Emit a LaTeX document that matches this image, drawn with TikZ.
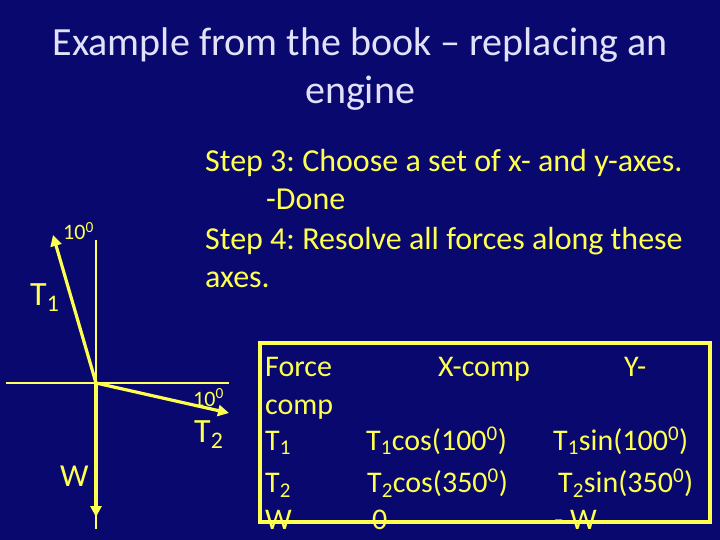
\documentclass[tikz,border=0pt]{standalone}
\usepackage{fontspec}
\setmainfont{Carlito}
\frenchspacing
\usetikzlibrary{arrows.meta}
\definecolor{bg}{RGB}{8,8,110}
\definecolor{yl}{RGB}{255,255,80}
\definecolor{tt}{RGB}{225,225,250}
\newcommand{\sbs}[1]{\textsubscript{#1}}
\newcommand{\sps}[1]{\textsuperscript{#1}}
\begin{document}
\begin{tikzpicture}[x=1pt,y=-1pt,
  txt/.style={anchor=base west,inner sep=0,text=yl,font=\fontsize{32}{36}\selectfont},
  tab/.style={anchor=base west,inner sep=0,text=yl,font=\fontsize{30}{34}\selectfont},
  ttl/.style={anchor=base,inner sep=0,text=tt,font=\fontsize{40}{46}\selectfont},
  lbl/.style={inner sep=0,text=yl,font=\fontsize{34}{38}\selectfont},
  sml/.style={inner sep=0,text=yl,font=\fontsize{22}{24}\selectfont},
  axis/.style={yl!90!white,line width=1.5pt},
  force/.style={yl,line width=3.2pt,-{Triangle[length=11pt,width=11pt]}}]
\fill[bg] (0,0) rectangle (720,540);
\useasboundingbox (0,0) rectangle (720,540);
\node[ttl] (t1) at (360,56) {Example from the book -- replacing an};
\node[ttl] (t2) at (360,104) {engine};
\node[txt] (s1) at (205,172) {Step 3: Choose a set of x- and y-axes.};
\node[txt] (s2) at (266,210) {-Done};
\node[txt] (s3) at (205,249) {Step 4: Resolve all forces along these};
\node[txt] (s4) at (205,287) {axes.};
% diagram
\coordinate (o) at (96,383);
\coordinate (vt) at (96,240);
\coordinate (vb) at (96,529);
\coordinate (hl) at (6,383);
\coordinate (hr) at (229,383);
\coordinate (t1e) at (53,235);
\coordinate (t2e) at (229,413);
\coordinate (we) at (96,517);
\draw[axis] (vt) -- (vb);
\draw[axis] (hl) -- (hr);
\draw[force] (o) -- (t1e);
\draw[force] (o) -- (t2e);
\draw[force] (o) -- (we);
\node[sml,anchor=base west] (a1) at (63,240) {10\sps{0}};
\node[lbl,anchor=base west] (l1) at (30,305) {T\sbs{1}};
\node[sml,anchor=base west] (a2) at (193,406) {10\sps{0}};
\node[lbl,anchor=base west] (l2) at (194,442) {T\sbs{2}};
\node[txt] (lw) at (60,486) {W};
% table
\draw[yl,line width=3.5pt] (260,343) rectangle (710,522);
\node[tab] (c11) at (265,376) {Force};
\node[tab] (c12) at (438,376) {X-comp};
\node[tab] (c13) at (624,376) {Y-};
\node[tab] (c21) at (265,414) {comp};
\node[tab] (c31) at (265,450) {T\sbs{1}};
\node[tab] (c32) at (366,450) {T\sbs{1}cos(100\sps{0})};
\node[tab] (c33) at (553,450) {T\sbs{1}sin(100\sps{0})};
\node[tab] (c41) at (265,492) {T\sbs{2}};
\node[tab] (c42) at (367,492) {T\sbs{2}cos(350\sps{0})};
\node[tab] (c43) at (558,492) {T\sbs{2}sin(350\sps{0})};
\node[tab] (c51) at (265,529) {W};
\node[tab] (c52) at (372,529) {0};
\node[tab] (c53) at (554,529) {- W};
\end{tikzpicture}
\end{document}
